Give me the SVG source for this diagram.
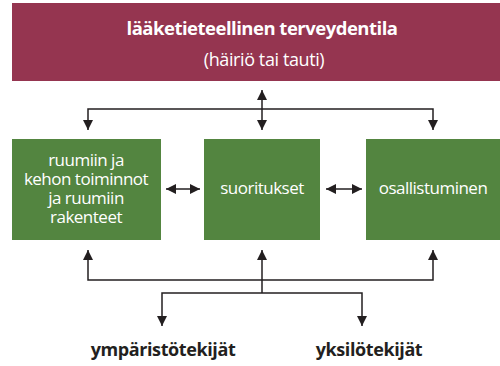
<svg xmlns="http://www.w3.org/2000/svg" width="500" height="366" viewBox="0 0 500 366">
<style>
.t{font-family:"Open Sans","Liberation Sans",sans-serif;fill:#fff;text-anchor:middle}
.g{fill:#538540}
.c{stroke:#231f20;stroke-width:1.5;fill:none}
.b{font-family:"Open Sans","Liberation Sans",sans-serif;font-weight:bold;fill:#231f20;text-anchor:middle;font-size:18px}
</style>
<defs>
<marker id="ah" viewBox="0 0 10 10" refX="10" refY="5" markerWidth="10" markerHeight="10" markerUnits="userSpaceOnUse" orient="auto-start-reverse">
<path d="M0,0 L10,5 L0,10 z" fill="#231f20"/>
</marker>
</defs>
<rect width="500" height="366" fill="#fff"/>
<g id="top">
<rect x="12" y="3" width="488" height="78" fill="#953550"/>
<text class="t" x="262" y="35" font-size="18.5" font-weight="bold" letter-spacing="-0.5">lääketieteellinen terveydentila</text>
<text class="t" x="264" y="66" font-size="18" letter-spacing="-0.4">(häiriö tai tauti)</text>
</g>
<g id="n1">
<rect class="g" x="12" y="139" width="149" height="101"/>
<text class="t" font-size="17" letter-spacing="-0.5"><tspan x="86" y="166">ruumiin ja</tspan><tspan x="86" y="185">kehon toiminnot</tspan><tspan x="86" y="204">ja ruumiin</tspan><tspan x="86" y="223">rakenteet</tspan></text>
</g>
<g id="n2">
<rect class="g" x="204" y="139" width="116" height="101"/>
<text class="t" x="262" y="194" font-size="17" letter-spacing="-0.5">suoritukset</text>
</g>
<g id="n3">
<rect class="g" x="366" y="139" width="134" height="101"/>
<text class="t" x="433" y="194" font-size="17" letter-spacing="-0.5">osallistuminen</text>
</g>
<g id="connectors">
<path class="c" d="M262,109 L262,90" marker-end="url(#ah)"/>
<path class="c" d="M88,130 L88,109 L433,109 L433,130" marker-start="url(#ah)" marker-end="url(#ah)"/>
<path class="c" d="M262,109 L262,130" marker-end="url(#ah)"/>
<path class="c" d="M166,189 L200,189" marker-start="url(#ah)" marker-end="url(#ah)"/>
<path class="c" d="M326,189 L362,189" marker-start="url(#ah)" marker-end="url(#ah)"/>
<path class="c" d="M88,250 L88,280 L433,280 L433,250" marker-start="url(#ah)" marker-end="url(#ah)"/>
<path class="c" d="M262,293 L262,250" marker-end="url(#ah)"/>
<path class="c" d="M162,326 L162,293 L362,293 L362,326" marker-start="url(#ah)" marker-end="url(#ah)"/>
</g>
<g id="env"><text class="b" x="163" y="356" letter-spacing="-0.4">ympäristötekijät</text></g>
<g id="ind"><text class="b" x="369" y="356" letter-spacing="-0.4">yksilötekijät</text></g>
</svg>
